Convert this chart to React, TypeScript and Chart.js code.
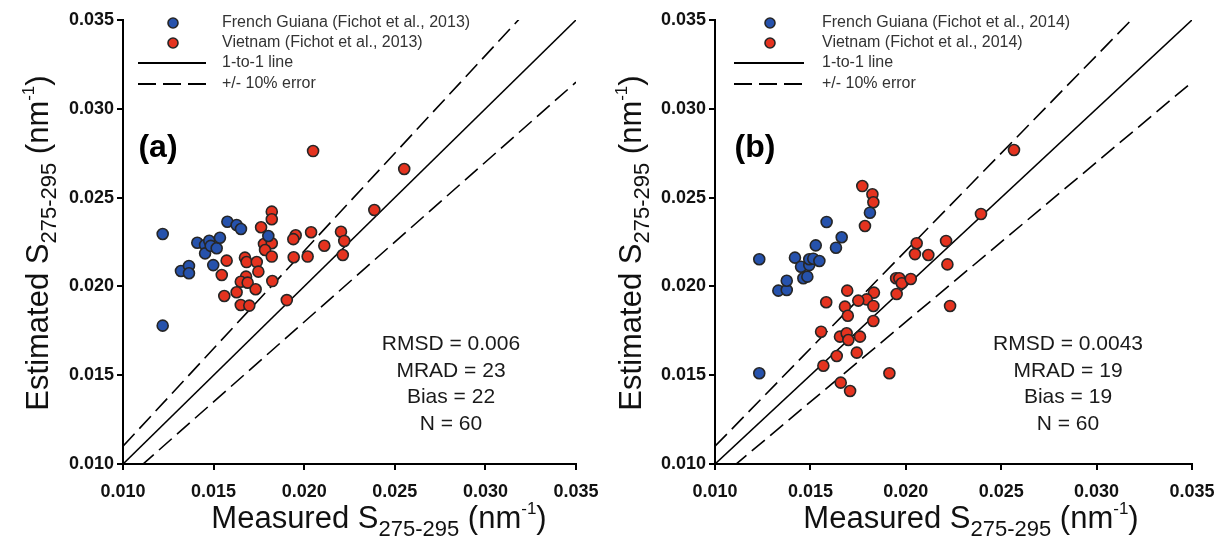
import React, { useEffect, useRef } from "react";
import { Chart, registerables } from "chart.js";
Chart.register(...registerables);

// ---------- data ----------
const tickValues = [0.01, 0.015, 0.02, 0.025, 0.03, 0.035];
const axisRange = [0.01, 0.035];
const errorFactors = [1.1, 0.9];

// Panel (a) – Fichot et al., 2013
const guianaA_x = [0.01219, 0.01219, 0.0132, 0.01364, 0.01364, 0.0141, 0.01453, 0.01453, 0.01476, 0.01484, 0.01517, 0.01535, 0.01498, 0.01576, 0.01627, 0.01651, 0.01802];
const guianaA_y = [0.02295, 0.01779, 0.02087, 0.02115, 0.02074, 0.02246, 0.02233, 0.02186, 0.02257, 0.02228, 0.02215, 0.02274, 0.0212, 0.02364, 0.02346, 0.02323, 0.02284];
const vietnamA_x = [0.02552, 0.02049, 0.02387, 0.01821, 0.01821, 0.01762, 0.02038, 0.02203, 0.02221, 0.01953, 0.0194, 0.02111, 0.01778, 0.01821, 0.01784, 0.01821, 0.01942, 0.02019, 0.02213, 0.01572, 0.01673, 0.01682, 0.01738, 0.01747, 0.01545, 0.01679, 0.0165, 0.01688, 0.01824, 0.01627, 0.01732, 0.01559, 0.0165, 0.01697, 0.01904];
const vietnamA_y = [0.02661, 0.02762, 0.0243, 0.02421, 0.02378, 0.02333, 0.02305, 0.02308, 0.02256, 0.02288, 0.02266, 0.02229, 0.02239, 0.02243, 0.02205, 0.02168, 0.02164, 0.02168, 0.02177, 0.02145, 0.02162, 0.02137, 0.02137, 0.02083, 0.02064, 0.02055, 0.02026, 0.02021, 0.0203, 0.01967, 0.01984, 0.01946, 0.01895, 0.01892, 0.01923];

// Panel (b) – Fichot et al., 2014
const guianaB_x = [0.01232, 0.01232, 0.01332, 0.01376, 0.01376, 0.01419, 0.01451, 0.01463, 0.01484, 0.01494, 0.01494, 0.01515, 0.01547, 0.01528, 0.01585, 0.01634, 0.01664, 0.01812];
const guianaB_y = [0.02153, 0.01511, 0.01976, 0.0198, 0.02032, 0.02162, 0.02111, 0.02046, 0.02055, 0.0212, 0.02153, 0.02156, 0.02143, 0.02231, 0.02363, 0.02218, 0.02277, 0.02415];
const vietnamB_x = [0.02567, 0.01772, 0.01825, 0.0183, 0.01786, 0.02394, 0.02057, 0.02048, 0.02118, 0.02211, 0.02218, 0.02232, 0.01949, 0.01966, 0.01979, 0.02026, 0.01952, 0.01693, 0.01833, 0.01795, 0.01751, 0.0183, 0.01681, 0.01696, 0.0183, 0.01583, 0.01556, 0.01655, 0.0169, 0.01699, 0.0176, 0.01638, 0.01743, 0.01568, 0.01914, 0.01659, 0.01708];
const vietnamB_y = [0.02768, 0.02565, 0.02519, 0.02474, 0.0234, 0.02408, 0.02243, 0.02182, 0.02177, 0.02256, 0.02124, 0.0189, 0.02046, 0.02046, 0.02018, 0.02042, 0.01957, 0.01976, 0.01965, 0.01927, 0.0192, 0.0189, 0.01886, 0.01835, 0.01805, 0.01911, 0.01745, 0.01717, 0.01736, 0.01698, 0.01717, 0.01608, 0.01627, 0.01553, 0.01511, 0.01458, 0.01411];

const statsA = ["RMSD = 0.006", "MRAD = 23", "Bias = 22", "N = 60"];
const statsB = ["RMSD = 0.0043", "MRAD = 19", "Bias = 19", "N = 60"];

// ---------- styles ----------
const BLUE = "#2652AC";
const RED = "#E5331F";
const PT_BORDER = "#262626";
const FONT = '"Liberation Sans", Arial, Helvetica, sans-serif';
const H = 542;

const zip = (xs: number[], ys: number[]) => xs.map((x, i) => ({ x, y: ys[i] }));

type PanelProps = {
  left: number;
  width: number;
  areaLeft: number;
  areaRight: number;
  gx: number[];
  gy: number[];
  vx: number[];
  vy: number[];
};

function ScatterPanel(p: PanelProps) {
  const ref = useRef<HTMLCanvasElement | null>(null);
  useEffect(() => {
    if (!ref.current) return;
    const line = (f: number, dash: number[]) => ({
      type: "line" as const,
      data: axisRange.map((x) => ({ x, y: x * f })),
      borderColor: "#000",
      borderWidth: 1.6,
      borderDash: dash,
      pointRadius: 0,
      showLine: true,
      fill: false,
      order: 1,
    });
    const pts = (xs: number[], ys: number[], c: string) => ({
      type: "scatter" as const,
      data: zip(xs, ys),
      backgroundColor: c,
      borderColor: PT_BORDER,
      borderWidth: 1.6,
      pointRadius: 5.5,
      order: 0,
    });
    const tickFont = { family: FONT, size: 18, weight: "bold" as const };
    const chart = new Chart(ref.current, {
      type: "scatter",
      data: {
        datasets: [
          pts(p.gx, p.gy, BLUE),
          pts(p.vx, p.vy, RED),
          line(1, []),
          line(errorFactors[0], [17, 7]),
          line(errorFactors[1], [17, 7]),
        ] as any,
      },
      options: {
        animation: false,
        responsive: false,
        events: [],
        layout: { padding: { left: 0, top: 20, right: p.width - p.areaRight, bottom: 0 } },
        plugins: { legend: { display: false }, tooltip: { enabled: false } },
        scales: {
          x: {
            type: "linear",
            min: axisRange[0],
            max: axisRange[1],
            afterBuildTicks: (s: any) => {
              s.ticks = tickValues.map((v) => ({ value: v }));
            },
            afterFit: (s: any) => {
              s.height = H - 464;
            },
            grid: { display: true, drawOnChartArea: false, drawTicks: true, tickLength: 6, color: "#000", lineWidth: 2 },
            border: { display: true, color: "#000", width: 2 },
            ticks: {
              color: "#111",
              font: tickFont,
              padding: 11,
              maxRotation: 0,
              callback: (v: any) => Number(v).toFixed(3),
            },
          },
          y: {
            type: "linear",
            min: axisRange[0],
            max: axisRange[1],
            afterBuildTicks: (s: any) => {
              s.ticks = tickValues.map((v) => ({ value: v }));
            },
            afterFit: (s: any) => {
              s.width = p.areaLeft;
            },
            grid: { display: true, drawOnChartArea: false, drawTicks: true, tickLength: 6, color: "#000", lineWidth: 2 },
            border: { display: true, color: "#000", width: 2 },
            ticks: {
              color: "#111",
              font: tickFont,
              padding: 3,
              callback: (v: any) => Number(v).toFixed(3),
            },
          },
        },
      } as any,
    });
    return () => chart.destroy();
  }, []);
  return (
    <canvas
      ref={ref}
      width={p.width}
      height={H}
      style={{ position: "absolute", left: p.left, top: 0, width: p.width, height: H }}
    />
  );
}

type OverlayProps = {
  legendYear: string;
  markerX: number;
  lineX1: number;
  lineX2: number;
  textX: number;
  stats: string[];
  statsX: number;
  tagX: number;
  tag: string;
  xTitleX: number;
  yTitleX: number;
};

function Overlay(o: OverlayProps) {
  const rows = [23, 43, 63, 84];
  const labels = [
    `French Guiana (Fichot et al., ${o.legendYear})`,
    `Vietnam (Fichot et al., ${o.legendYear})`,
    "1-to-1 line",
    "+/- 10% error",
  ];
  const txt: React.CSSProperties = { position: "absolute", whiteSpace: "nowrap", fontFamily: FONT, lineHeight: 1 };
  return (
    <>
      <svg
        width={1226}
        height={H}
        style={{ position: "absolute", left: 0, top: 0, pointerEvents: "none" }}
      >
        <circle cx={o.markerX} cy={rows[0]} r={5} fill={BLUE} stroke={PT_BORDER} strokeWidth={1.6} />
        <circle cx={o.markerX} cy={rows[1]} r={5} fill={RED} stroke={PT_BORDER} strokeWidth={1.6} />
        <line x1={o.lineX1} x2={o.lineX2} y1={rows[2]} y2={rows[2]} stroke="#000" strokeWidth={2} />
        <line x1={o.lineX1} x2={o.lineX2} y1={rows[3]} y2={rows[3]} stroke="#000" strokeWidth={2} strokeDasharray="18 7" />
      </svg>
      {labels.map((l, i) => (
        <div key={i} style={{ ...txt, left: o.textX, top: rows[i] - 9, fontSize: 16, color: "#333" }}>
          {l}
        </div>
      ))}
      {o.stats.map((s, i) => (
        <div
          key={"s" + i}
          style={{ ...txt, left: o.statsX, top: 342 + i * 26.7, transform: "translate(-50%,-50%)", fontSize: 21, color: "#1a1a1a" }}
        >
          {s}
        </div>
      ))}
      <div style={{ ...txt, left: o.tagX, top: 146, transform: "translate(-50%,-50%)", fontSize: 32, fontWeight: "bold", color: "#000" }}>
        {o.tag}
      </div>
      <div style={{ ...txt, left: o.xTitleX, top: 520, transform: "translate(-50%,-50%)", fontSize: 31, color: "#111" }}>
        Measured S<sub style={{ fontSize: 22, verticalAlign: "-0.35em" }}>275-295</sub> (nm
        <sup style={{ fontSize: 17, verticalAlign: "0.8em" }}>-1</sup>)
      </div>
      <div
        style={{ ...txt, left: o.yTitleX, top: 243, transform: "translate(-50%,-50%) rotate(-90deg)", fontSize: 31, color: "#111" }}
      >
        Estimated S<sub style={{ fontSize: 22, verticalAlign: "-0.35em" }}>275-295</sub> (nm
        <sup style={{ fontSize: 17, verticalAlign: "0.8em" }}>-1</sup>)
      </div>
    </>
  );
}

export default function App() {
  return (
    <div style={{ position: "fixed", left: 0, top: 0, width: 1226, height: H, background: "#fff", overflow: "hidden" }}>
      <ScatterPanel left={0} width={610} areaLeft={123} areaRight={576} gx={guianaA_x} gy={guianaA_y} vx={vietnamA_x} vy={vietnamA_y} />
      <ScatterPanel left={610} width={616} areaLeft={105} areaRight={582} gx={guianaB_x} gy={guianaB_y} vx={vietnamB_x} vy={vietnamB_y} />
      <Overlay
        legendYear="2013"
        markerX={173}
        lineX1={138}
        lineX2={206}
        textX={222}
        stats={statsA}
        statsX={451}
        tagX={158}
        tag="(a)"
        xTitleX={379}
        yTitleX={40}
      />
      <Overlay
        legendYear="2014"
        markerX={770}
        lineX1={734}
        lineX2={804}
        textX={822}
        stats={statsB}
        statsX={1068}
        tagX={755}
        tag="(b)"
        xTitleX={971}
        yTitleX={633}
      />
    </div>
  );
}
